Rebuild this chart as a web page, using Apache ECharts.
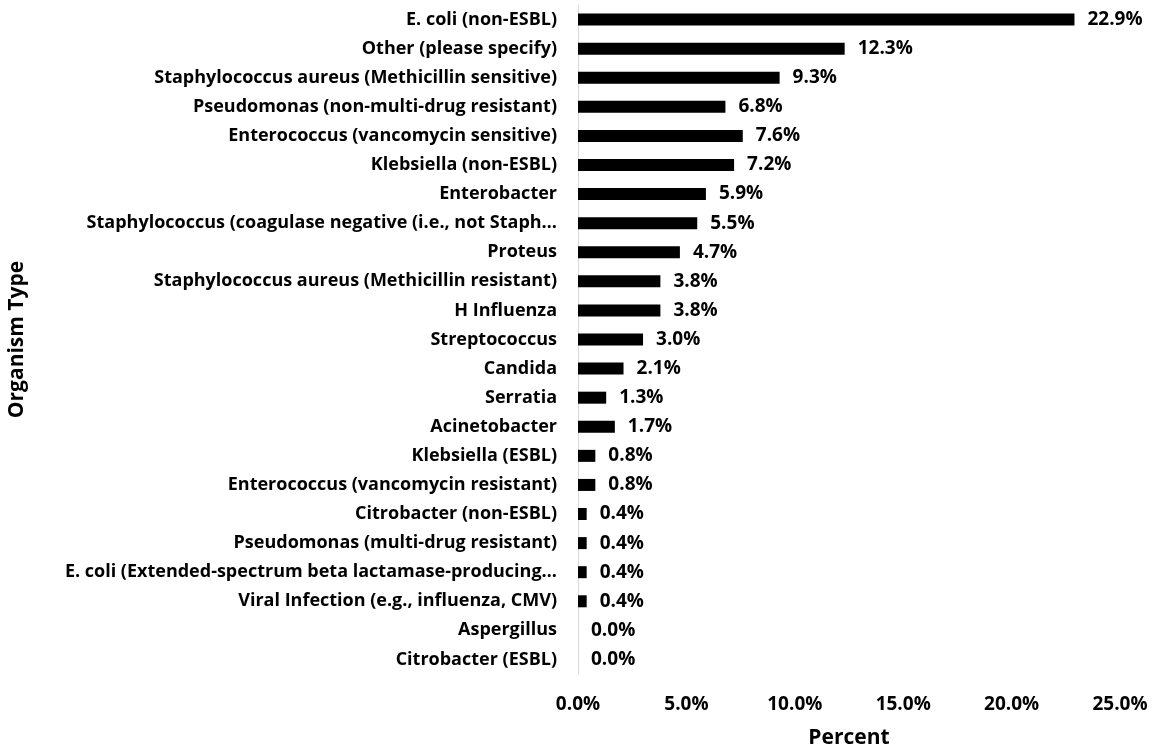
<!DOCTYPE html>
<html>
<head>
<meta charset="utf-8">
<script src="https://cdn.jsdelivr.net/npm/echarts@6/dist/echarts.min.js"></script>
<style>
  html, body { margin: 0; padding: 0; background: #fff; }
  #chart { width: 1163px; height: 754px; }
</style>
</head>
<body>
<div id="chart"></div>
<script>
const organisms = [
  'E. coli (non-ESBL)',
  'Other (please specify)',
  'Staphylococcus aureus (Methicillin sensitive)',
  'Pseudomonas (non-multi-drug resistant)',
  'Enterococcus (vancomycin sensitive)',
  'Klebsiella (non-ESBL)',
  'Enterobacter',
  'Staphylococcus (coagulase negative (i.e., not Staph…',
  'Proteus',
  'Staphylococcus aureus (Methicillin resistant)',
  'H Influenza',
  'Streptococcus',
  'Candida',
  'Serratia',
  'Acinetobacter',
  'Klebsiella (ESBL)',
  'Enterococcus (vancomycin resistant)',
  'Citrobacter (non-ESBL)',
  'Pseudomonas (multi-drug resistant)',
  'E. coli (Extended-spectrum beta lactamase-producing…',
  'Viral Infection (e.g., influenza, CMV)',
  'Aspergillus',
  'Citrobacter (ESBL)'
]
const percents = [22.9, 12.3, 9.3, 6.8, 7.6, 7.2, 5.9, 5.5, 4.7, 3.8, 3.8, 3.0, 2.1, 1.3, 1.7, 0.8, 0.8, 0.4, 0.4, 0.4, 0.4, 0.0, 0.0]

const font = '"Open Sans", sans-serif'
const textStyle = { fontFamily: font, fontWeight: 'bold', fontSize: 18, color: '#000' }

const chart = echarts.init(document.getElementById('chart'))
chart.setOption({
  animation: false,
  grid: { left: 578, right: 43, top: 5, bottom: 79 },
  xAxis: {
    type: 'value',
    min: 0,
    max: 25,
    interval: 5,
    name: 'Percent',
    nameLocation: 'middle',
    nameGap: 54,
    nameTextStyle: { ...textStyle, fontSize: 21 },
    axisLine: { show: false },
    axisTick: { show: false },
    splitLine: { show: false },
    axisLabel: { ...textStyle, fontSize: 19, margin: 21, formatter: v => v.toFixed(1) + '%' }
  },
  yAxis: {
    type: 'category',
    data: organisms,
    inverse: true,
    name: 'Organism Type',
    nameLocation: 'middle',
    nameGap: 550,
    nameRotate: 90,
    nameTextStyle: { ...textStyle, fontSize: 21 },
    axisLine: { lineStyle: { color: '#d9d9d9', width: 1 } },
    axisTick: { show: false },
    axisLabel: { ...textStyle, margin: 21 }
  },
  series: [{
    type: 'bar',
    data: percents,
    barWidth: 12,
    itemStyle: { color: '#000' },
    label: {
      show: true,
      position: 'right',
      distance: 13,
      ...textStyle,
      fontSize: 19,
      formatter: p => p.value.toFixed(1) + '%'
    }
  }]
})
</script>
</body>
</html>
